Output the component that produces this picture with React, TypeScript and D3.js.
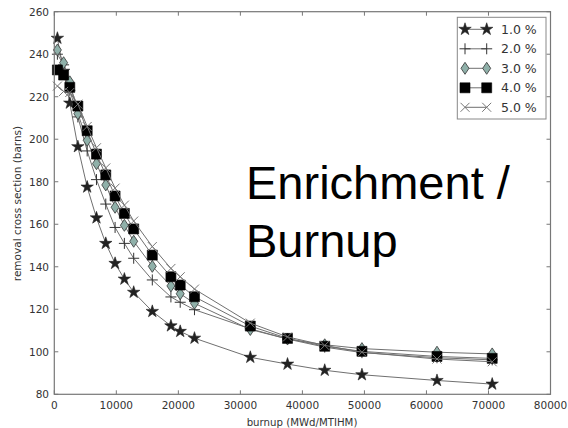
import React from "react";
import * as d3 from "d3";

const burnup = [500, 1500, 2500, 3800, 5300, 6800, 8300, 9800, 11300, 12800, 15800, 18800, 20300, 22600, 31600, 37600, 43600, 49600, 61700, 70600];
const enr1 = [247.5, 232, 217, 196.5, 177.5, 163, 151, 141.6, 134.2, 128, 119, 112.2, 109.6, 106.4, 97.4, 94.2, 91.3, 89.2, 86.5, 84.8];
const enr2 = [240, 235, 223, 210.5, 194.5, 181, 169.5, 158.5, 151, 144, 133.8, 125.8, 123.3, 119.8, 110.8, 106, 102.2, 99.6, 97.2, 96.2];
const enr3 = [242, 236, 227, 212, 199.5, 188.5, 178.5, 168, 159.5, 152, 140.2, 131, 127.3, 122.8, 110.5, 106, 103.3, 101.5, 99.8, 99.0];
const enr4 = [232.6, 230.2, 224.4, 215.6, 204, 193, 183.2, 173.3, 165.1, 157.8, 145.5, 135.3, 131.4, 125.9, 112.1, 106.3, 102.6, 100.2, 97.8, 96.9];
const enr5 = [225, 222.5, 222, 216.5, 206, 196, 186.5, 177, 169, 161.5, 149.5, 139.2, 135.3, 129.5, 113.5, 107, 103, 99.8, 96.6, 95.3];
const seriesLabels = ["1.0 %", "2.0 %", "3.0 %", "4.0 %", "5.0 %"];
const xTicks = [0, 10000, 20000, 30000, 40000, 50000, 60000, 70000, 80000];
const yTicks = [80, 100, 120, 140, 160, 180, 200, 220, 240, 260];

const W = 568, H = 428;
const L = 54.3, R = 550.5, T = 11.7, B = 394.3;

const x = d3.scaleLinear().domain([0, 80000]).range([L, R]);
const y = d3.scaleLinear().domain([80, 260]).range([B, T]);

const starPath = d3.symbol().type(d3.symbolStar).size(48)() as string;
const squarePath = d3.symbol().type(d3.symbolSquare).size(100)() as string;
const diamondPath = "M0,-6L4,0L0,6L-4,0Z";
const plusPath = "M-5.5,0L5.5,0M0,-5.5L0,5.5";
const xPath = "M-4.5,-4.5L4.5,4.5M-4.5,4.5L4.5,-4.5";

type Kind = "star" | "plus" | "diamond" | "square" | "x";
const kinds: Kind[] = ["star", "plus", "diamond", "square", "x"];
const allSeries = [enr1, enr2, enr3, enr4, enr5];

function Marker({ kind, cx, cy }: { kind: Kind; cx: number; cy: number }) {
  const t = `translate(${cx},${cy})`;
  if (kind === "star") return <path d={starPath} transform={t} fill="#222" stroke="#222" strokeWidth={0.6} />;
  if (kind === "square") return <path d={squarePath} transform={t} fill="#000" stroke="#000" strokeWidth={0.6} />;
  if (kind === "diamond") return <path d={diamondPath} transform={t} fill="#8fb0a9" stroke="#333" strokeWidth={0.8} />;
  if (kind === "plus") return <path d={plusPath} transform={t} fill="none" stroke="#333" strokeWidth={1} />;
  return <path d={xPath} transform={t} fill="none" stroke="#777" strokeWidth={1} />;
}

export default function App() {
  const line = d3.line<number>().x((_, i) => x(burnup[i])).y((d) => y(d));
  const tickFont = { fontFamily: "DejaVu Sans", fontSize: 10.5, fill: "#333" } as const;
  return (
    <svg width={W} height={H} style={{ position: "absolute", left: 0, top: 0, background: "#fff" }}>
      <rect x={0} y={0} width={W} height={H} fill="#fff" />
      {allSeries.map((s, si) => (
        <g key={si}>
          <path d={line(s) as string} fill="none" stroke="#707070" strokeWidth={1} />
          {s.map((v, i) => (
            <Marker key={i} kind={kinds[si]} cx={x(burnup[i])} cy={y(v)} />
          ))}
        </g>
      ))}
      <rect x={L} y={T} width={R - L} height={B - T} fill="none" stroke="#777" strokeWidth={1.2} />
      {xTicks.map((t) => (
        <g key={"x" + t}>
          <line x1={x(t)} x2={x(t)} y1={B} y2={B - 4} stroke="#777" />
          <line x1={x(t)} x2={x(t)} y1={T} y2={T + 4} stroke="#777" />
          <text x={x(t)} y={408.5} textAnchor="middle" {...tickFont}>{t}</text>
        </g>
      ))}
      {yTicks.map((t) => (
        <g key={"y" + t}>
          <line x1={L} x2={L + 4} y1={y(t)} y2={y(t)} stroke="#777" />
          <line x1={R} x2={R - 4} y1={y(t)} y2={y(t)} stroke="#777" />
          <text x={49} y={y(t) + 3.8} textAnchor="end" {...tickFont}>{t}</text>
        </g>
      ))}
      <text x={302} y={425.5} textAnchor="middle" fontFamily="DejaVu Sans" fontSize={10.2} fill="#333">
        burnup (MWd/MTIHM)
      </text>
      <text transform="translate(21,203.5) rotate(-90)" textAnchor="middle" fontFamily="DejaVu Sans" fontSize={10.5} fill="#333">
        removal cross section (barns)
      </text>
      <rect x={457.3} y={17.3} width={88.7} height={101.7} fill="#fff" stroke="#888" strokeWidth={1} />
      {seriesLabels.map((lab, i) => {
        const ly = 29.3 + i * 19.5;
        return (
          <g key={lab}>
            <line x1={465} x2={486.7} y1={ly} y2={ly} stroke="#707070" strokeWidth={1} />
            <Marker kind={kinds[i]} cx={465} cy={ly} />
            <Marker kind={kinds[i]} cx={486.7} cy={ly} />
            <text x={501} y={ly + 4.5} fontFamily="DejaVu Sans" fontSize={12.5} fill="#333">{lab}</text>
          </g>
        );
      })}
      <text x={246} y={199.3} fontFamily="Liberation Sans" fontSize={47} fill="#000">Enrichment /</text>
      <text x={246} y={257.3} fontFamily="Liberation Sans" fontSize={47} fill="#000">Burnup</text>
    </svg>
  );
}
